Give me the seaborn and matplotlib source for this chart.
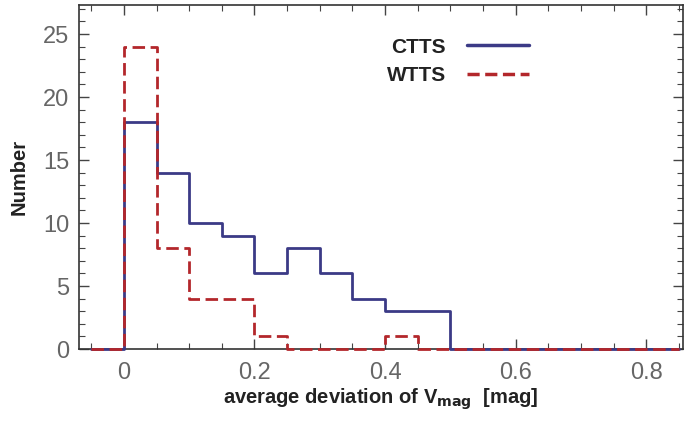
import numpy as np
import pandas as pd
import matplotlib
matplotlib.use("Agg")
import matplotlib.pyplot as plt
from matplotlib.lines import Line2D
from matplotlib.ticker import MultipleLocator, FixedLocator, FixedFormatter
import seaborn as sns

# Data
bin_edges = [-0.05, 0.0, 0.05, 0.10, 0.15, 0.20, 0.25, 0.30, 0.35, 0.40,
             0.45, 0.50, 0.55, 0.60, 0.65, 0.70, 0.75, 0.80, 0.85]
ctts_counts = [0, 18, 14, 10, 9, 6, 8, 6, 4, 3, 3, 0, 0, 0, 0, 0, 0, 0]
wtts_counts = [0, 24, 8, 4, 4, 1, 0, 0, 0, 1, 0, 0, 0, 0, 0, 0, 0, 0]
series_names = ["CTTS", "WTTS"]
x_ticks = [0, 0.2, 0.4, 0.6, 0.8]
x_tick_labels = ["0", "0.2", "0.4", "0.6", "0.8"]
y_ticks = [0, 5, 10, 15, 20, 25]

sns.set_theme(style="white")
plt.rcParams["font.family"] = ["Liberation Sans", "DejaVu Sans"]
plt.rcParams["mathtext.default"] = "bf"

edges = np.array(bin_edges)
centers = (edges[:-1] + edges[1:]) / 2
df_c = pd.DataFrame({"x": centers, "w": np.array(ctts_counts, dtype=float)})
df_w = pd.DataFrame({"x": centers, "w": np.array(wtts_counts, dtype=float)})

fig = plt.figure(figsize=(6.85, 4.21), dpi=100)
ax = fig.add_axes([0.115, 0.171, 0.882, 0.817])

blue = "#3b3a86"
red = "#b3272b"
dash = (0, (4.5, 2.0))

sns.histplot(data=df_c, x="x", weights="w", bins=list(bin_edges),
             element="step", fill=False, color=blue, linewidth=2.0, ax=ax)
n_before = len(ax.lines)
sns.histplot(data=df_w, x="x", weights="w", bins=list(bin_edges),
             element="step", fill=False, color=red, linewidth=2.0, ax=ax)
for ln in ax.lines[:n_before]:
    ln.set_zorder(3)
    ln.set_clip_on(False)
for ln in ax.lines[n_before:]:
    ln.set_linestyle(dash)
    ln.set_zorder(3.1)
    ln.set_clip_on(False)

ax.set_xlim(-0.069, 0.856)
ax.set_ylim(0, 27.3)
ax.xaxis.set_major_locator(FixedLocator(x_ticks))
ax.xaxis.set_major_formatter(FixedFormatter(x_tick_labels))
ax.xaxis.set_minor_locator(MultipleLocator(0.05))
ax.yaxis.set_major_locator(FixedLocator(y_ticks))
ax.yaxis.set_minor_locator(MultipleLocator(1))
ax.tick_params(which="both", direction="in", top=True, right=True,
               bottom=True, left=True, colors="#444444", labelcolor="#666666")
ax.tick_params(which="major", length=7, width=1.0, labelsize=17)
ax.tick_params(axis="x", which="major", pad=9)
ax.tick_params(axis="y", which="major", pad=7)
ax.tick_params(which="minor", length=4, width=0.8)
for s in ax.spines.values():
    s.set_color("#333333")
    s.set_linewidth(1.2)

ax.set_xlabel(r"average deviation of V$_{mag}$  [mag]", fontsize=14.5,
              fontweight="bold", color="#222222", labelpad=2)
ax.set_ylabel("Number", fontsize=14.5, fontweight="bold", color="#222222", labelpad=10)

handles = [Line2D([0], [0], color=blue, lw=2.5),
           Line2D([0], [0], color=red, lw=2.5, linestyle=(0, (3.5, 1.6)))]
leg = ax.legend(handles, series_names, loc="upper left",
                bbox_to_anchor=(0.51, 0.905), frameon=False, markerfirst=False,
                handlelength=3.0, handletextpad=1.0, labelspacing=0.45,
                borderpad=0, borderaxespad=0,
                prop={"weight": "bold", "size": 15})
for t in leg.get_texts():
    t.set_color("#222222")

fig.savefig("out.png", dpi=100)
